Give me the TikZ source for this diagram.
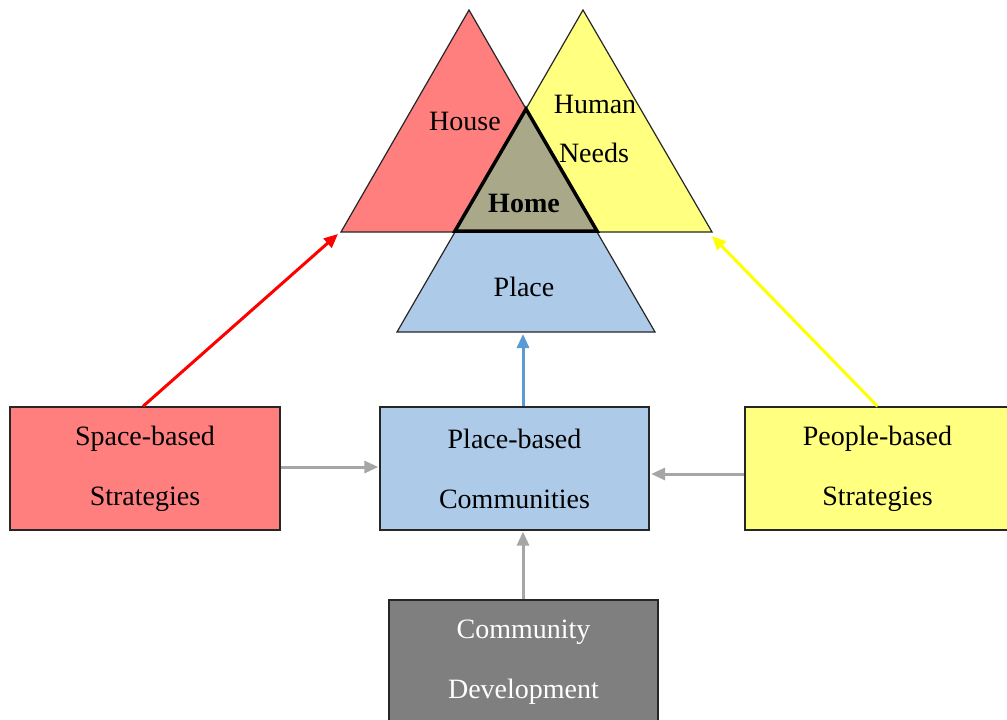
\documentclass[tikz,border=0pt]{standalone}
\usepackage{fontspec}
\setmainfont{Liberation Serif}
\usetikzlibrary{arrows.meta}
\definecolor{cred}{HTML}{FF7F7F}
\definecolor{cyel}{HTML}{FFFF80}
\definecolor{cblue}{HTML}{ADCBE9}
\definecolor{chome}{HTML}{A9A98A}
\definecolor{cgraybox}{HTML}{7F7F7F}
\definecolor{carrgray}{HTML}{A6A6A6}
\definecolor{carrblue}{HTML}{5B9BD5}
\definecolor{carrred}{HTML}{FF0000}
\definecolor{carryel}{HTML}{FFFF00}
\tikzset{
  boxnode/.style={draw=black!85, line width=1.3pt, minimum height=123pt, inner sep=0pt, align=center, font=\fontsize{28}{60}\selectfont},
  tri/.style={draw=black!85, line width=1.2pt, line join=miter},
  conn/.style={line width=3pt},
  lbl/.style={font=\fontsize{28}{30}\selectfont, inner sep=0pt},
}
\begin{document}
\begin{tikzpicture}[x=1pt,y=-1pt]
\useasboundingbox (0,0) rectangle (1007,720);
\clip (0,0) rectangle (1007,720);
\fill[white] (0,0) rectangle (1007,720);
% place triangle (visible part)
\draw[tri, fill=cblue] (397,332) -- (655,332) -- (597,232) -- (455,232) -- cycle;
% house triangle
\draw[tri, fill=cred] (341,232) -- (469,10) -- (597,232) -- cycle;
% human needs triangle
\draw[tri, fill=cyel] (455,232) -- (583,10) -- (712,232) -- cycle;
% home
\draw[line width=3.5pt, fill=chome, line join=miter] (455,231) -- (526,109) -- (597,231) -- cycle;
\coordinate (houseL) at (338,234);
\coordinate (needsR) at (712,236);
\coordinate (placeB) at (523,334);
\node[lbl] (house) at (465,121) {House};
\node[lbl] (human) at (595,104) {Human};
\node[lbl] (needs) at (594,153) {Needs};
\node[lbl, font=\fontsize{28}{30}\selectfont\bfseries] (home) at (524,203) {Home};
\node[lbl] (place) at (524,287) {Place};
% boxes
\node[boxnode, fill=cred, minimum width=270pt] (sp) at (145,468.5) {Space-based\\Strategies};
\node[boxnode, fill=cblue, minimum width=269pt] (pb) at (514.5,468.5) {Place-based\\Communities};
\node[boxnode, fill=cyel, minimum width=265pt, text width=265pt] (pe) at (877.5,468.5) {People-based\\Strategies};
\node[boxnode, fill=cgraybox, minimum width=269pt, minimum height=125pt, text=white] (cd) at (523.5,662.5) {Community\\Development};
% connectors
\draw[conn, draw=carrred, -{Triangle[length=14pt,width=12pt,fill=carrred]}] ([xshift=-2pt]sp.north) -- (houseL);
\draw[conn, draw=carryel, -{Triangle[length=14pt,width=12pt,fill=carryel]}] (pe.north) -- (needsR);
\draw[conn, draw=carrblue, -{Triangle[length=14pt,width=12pt,fill=carrblue]}] ([xshift=8.5pt]pb.north) -- (placeB);
\draw[conn, draw=carrgray, -{Triangle[length=14pt,width=12pt,fill=carrgray]}] ([yshift=1.5pt]sp.east) -- ([yshift=1.5pt,xshift=-1pt]pb.west);
\draw[conn, draw=carrgray, -{Triangle[length=14pt,width=12pt,fill=carrgray]}] ([yshift=-5.5pt]pe.west) -- ([yshift=-5.5pt,xshift=1.5pt]pb.east);
\draw[conn, draw=carrgray, -{Triangle[length=14pt,width=12pt,fill=carrgray]}] ([xshift=-0.5pt]cd.north) -- ([xshift=8.5pt,yshift=-1pt]pb.south);
\end{tikzpicture}
\end{document}
